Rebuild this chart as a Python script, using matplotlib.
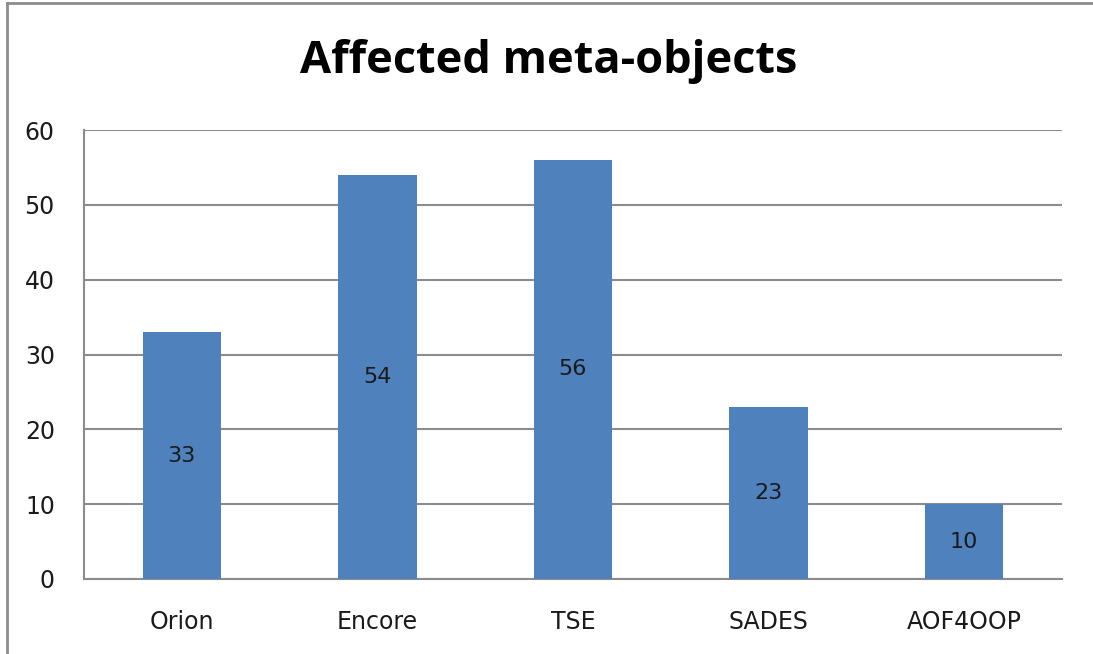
import matplotlib
matplotlib.use("Agg")
import matplotlib.pyplot as plt
from matplotlib.lines import Line2D

categories = ["Orion", "Encore", "TSE", "SADES", "AOF4OOP"]
values = [33, 54, 56, 23, 10]
yticks = [0, 10, 20, 30, 40, 50, 60]

W, H = 1093, 654
fig = plt.figure(figsize=(W / 100, H / 100), dpi=100)
ax = fig.add_axes([84 / W, 1 - 579 / H, (1062 - 84) / W, (579 - 130) / H])

x = list(range(len(categories)))
ax.bar(x, values, width=0.4, color="#4F81BD", zorder=3)
for xi, v in zip(x, values):
    ax.text(xi, v / 2, str(v), ha="center", va="center", fontsize=16,
            color="#1a1a1a", zorder=4)

ax.set_xlim(-0.5, len(categories) - 0.5)
ax.set_ylim(0, 60)
ax.set_yticks(yticks)
ax.set_xticks(x)
ax.set_xticklabels(categories)
ax.yaxis.grid(True, color="#8c8c8c", linewidth=1.5, zorder=0)
ax.tick_params(axis="both", length=0, labelsize=17, colors="#1a1a1a")
ax.tick_params(axis="y", pad=21)
ax.tick_params(axis="x", pad=22)
for side in ["top", "right"]:
    ax.spines[side].set_visible(False)
for side in ["left", "bottom"]:
    ax.spines[side].set_color("#8c8c8c")
    ax.spines[side].set_linewidth(1.5)

fig.text(549 / W, 1 - 62 / H, "Affected meta-objects", ha="center", va="center",
         fontsize=32.5, fontweight="bold", family="Open Sans")

# outer chart border (left and top edges visible)
fig.add_artist(Line2D([7 / W, 7 / W], [0, 1 - 3 / H], transform=fig.transFigure,
                      color="#8c8c8c", linewidth=2))
fig.add_artist(Line2D([7 / W, 1], [1 - 3 / H, 1 - 3 / H], transform=fig.transFigure,
                      color="#8c8c8c", linewidth=2))

fig.savefig("out.png", dpi=100)
